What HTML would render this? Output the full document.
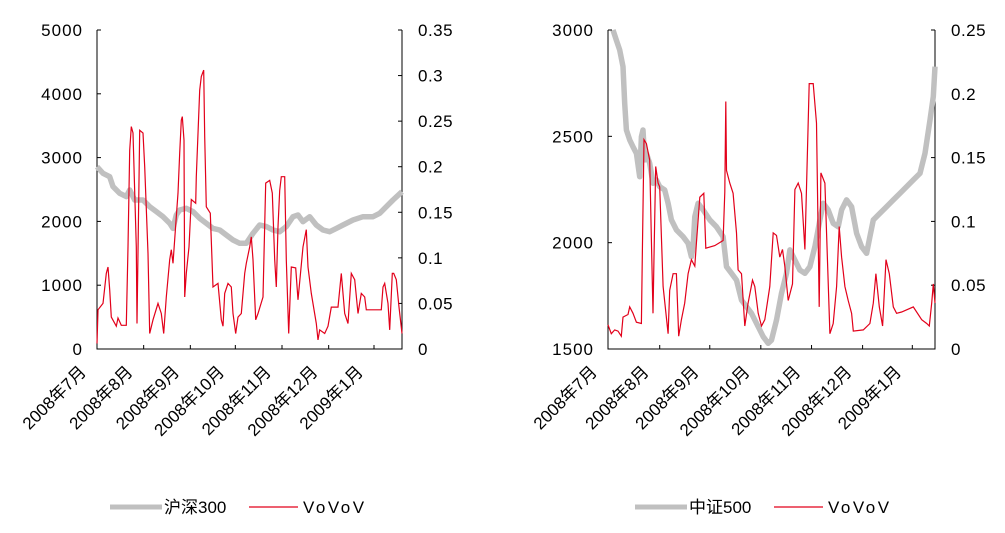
<!DOCTYPE html>
<html><head><meta charset="utf-8">
<style>
html,body{margin:0;padding:0;background:#fff;}
svg text{font-family:"Liberation Sans","Noto Sans CJK SC",sans-serif;fill:#000;}
</style></head>
<body>
<svg id="svg" width="1005" height="528" xmlns="http://www.w3.org/2000/svg"></svg>
<script>
// ---- Chart A: 沪深300 vs VoV ----
const monthLabels = ["2008年7月","2008年8月","2008年9月","2008年10月","2008年11月","2008年12月","2009年1月"];
const aMonthT = [22,162,302,437,577,717,853];
const aLeftTicks = [0,1000,2000,3000,4000,5000];
const aRightTicks = ["0","0.05","0.1","0.15","0.2","0.25","0.3","0.35"];
const aIdxT = [22,40,60,70,90,110,120,135,160,180,200,220,240,250,260,270,290,310,330,350,370,390,410,430,450,470,490,510,530,550,570,590,610,625,640,660,680,700,720,740,760,790,820,850,870,890,910,937];
const aIdxV = [2858,2754,2701,2545,2440,2388,2492,2336,2336,2231,2153,2074,1970,1891,2100,2179,2205,2153,2048,1970,1891,1865,1787,1709,1656,1656,1813,1944,1918,1865,1839,1918,2074,2100,1996,2074,1944,1865,1839,1891,1944,2022,2074,2074,2127,2231,2336,2466];
const aVovT = [22,25,40,50,55,60,65,80,85,95,110,115,120,125,130,140,142,150,160,165,175,180,190,205,215,222,230,240,245,250,260,265,270,275,278,283,285,290,298,305,318,320,330,335,342,345,350,362,370,385,395,400,405,415,425,430,438,445,455,465,470,480,485,490,498,505,520,528,540,548,555,560,565,570,575,585,590,597,605,618,625,640,650,655,665,680,685,690,705,715,725,745,755,765,775,785,795,805,815,825,830,875,880,885,895,900,908,912,920,928,937];
const aVovV = [.006,.043,.050,.083,.090,.065,.035,.025,.034,.026,.026,.112,.218,.244,.237,.112,.028,.240,.237,.200,.105,.017,.032,.050,.039,.017,.057,.098,.109,.094,.145,.171,.215,.251,.255,.229,.057,.083,.112,.164,.160,.189,.284,.299,.306,.233,.156,.149,.068,.072,.032,.025,.061,.072,.068,.039,.017,.035,.039,.083,.094,.112,.123,.098,.032,.039,.057,.182,.185,.171,.098,.068,.134,.174,.189,.189,.098,.017,.090,.089,.054,.112,.131,.090,.061,.028,.010,.021,.017,.025,.046,.046,.083,.039,.028,.083,.076,.039,.061,.057,.043,.043,.068,.072,.050,.021,.083,.083,.076,.046,.017];

// ---- Chart B: 中证500 vs VoV ----
const bMonthT = [25,180,330,483,635,788,937];
const bLeftTicks = [1500,2000,2500,3000];
const bRightTicks = ["0","0.05","0.1","0.15","0.2","0.25"];
const bIdxT = [40,50,60,70,75,80,90,100,110,120,125,130,135,140,150,160,170,180,195,205,215,230,250,265,275,280,285,295,310,330,350,370,380,395,410,425,440,455,475,490,505,515,530,545,560,570,585,600,615,630,645,660,670,685,700,715,725,740,755,770,785,800,810,820,840,860,880,900,920,940,960,975,990,1000,1005];
const bIdxV = [3000,2953,2906,2828,2655,2530,2483,2451,2420,2310,2498,2530,2389,2420,2373,2279,2295,2263,2248,2185,2107,2060,2028,1997,1934,1981,2122,2185,2154,2107,2075,2028,1887,1856,1824,1730,1699,1668,1605,1558,1527,1542,1636,1762,1856,1966,1918,1871,1856,1887,1981,2107,2185,2154,2091,2075,2154,2201,2169,2044,1981,1950,2028,2107,2138,2169,2201,2232,2263,2295,2326,2420,2577,2687,2828];
const bVovT = [25,35,45,55,65,70,85,90,100,110,125,128,133,140,150,155,160,163,168,175,180,190,205,210,220,230,237,245,255,265,275,285,290,300,312,318,345,370,375,378,380,390,400,410,415,425,435,445,458,465,475,485,495,510,520,530,540,548,555,565,578,585,595,605,615,628,640,650,658,663,675,690,700,710,718,725,735,745,755,760,790,810,820,828,838,848,858,868,880,890,905,940,965,980,988,995,1000,1005];
const bVovV = [.019,.012,.015,.014,.010,.025,.027,.033,.028,.021,.020,.078,.164,.161,.148,.085,.028,.072,.143,.130,.127,.049,.012,.046,.059,.059,.010,.023,.036,.059,.070,.065,.083,.119,.122,.079,.081,.085,.123,.194,.140,.130,.122,.091,.062,.059,.018,.036,.054,.049,.028,.018,.023,.049,.091,.089,.072,.078,.065,.038,.051,.125,.130,.122,.078,.208,.208,.177,.033,.138,.130,.012,.020,.049,.096,.072,.049,.038,.028,.014,.015,.020,.036,.059,.033,.018,.070,.059,.033,.028,.029,.033,.023,.020,.018,.036,.051,.036];

const NS="http://www.w3.org/2000/svg";
const svg=document.getElementById('svg');
function mk(tag,attrs,parent){const e=document.createElementNS(NS,tag);for(const k in attrs)e.setAttribute(k,attrs[k]);(parent||svg).appendChild(e);return e;}

function drawChart(o){
  const g=mk('g',{});
  
  
  const xs=t=>o.x0+(t-o.t0)/(o.t1-o.t0)*(o.x1-o.x0);
  const yl=v=>o.yb-(v-o.lmin)/(o.lmax-o.lmin)*(o.yb-o.yt);
  const yr=v=>o.yb-(v-0)/(o.rmax)*(o.yb-o.yt);
  const ax=mk('path',{d:`M${o.x0},${o.yt}V${o.yb}H${o.x1}V${o.yt}`,stroke:'#000','stroke-width':1,fill:'none'},g);
  
  
  o.lticks.forEach(v=>{
    const y=yl(v);
    mk('line',{x1:o.x0,x2:o.x0+4,y1:y,y2:y,stroke:'#000'},g);
    const t=mk('text',{x:o.x0-14,y:y+6,'text-anchor':'end','font-size':17,'letter-spacing':'1'},g);
    t.textContent=v;
    
    
  });
  o.rticks.forEach(s=>{
    const y=yr(parseFloat(s));
    mk('line',{x1:o.x1-4,x2:o.x1,y1:y,y2:y,stroke:'#000'},g);
    const t=mk('text',{x:o.x1+16,y:y+6,'font-size':17,'letter-spacing':'0.5'},g);
    t.textContent=s;
    
    
  });
  o.months.forEach((m,i)=>{
    const x=xs(o.monthT[i]);
    mk('line',{x1:x,x2:x,y1:o.yb,y2:o.yb-4,stroke:'#000'},g);
    const t=mk('text',{x:0,y:0,'text-anchor':'end','font-size':17,transform:`translate(${x-10},${o.yb+24}) rotate(-45)`},g);
    t.textContent=m;
    
    
  });
  const ip=mk('polyline',{points:o.idxT.map((t,i)=>xs(t).toFixed(1)+','+yl(o.idxV[i]).toFixed(1)).join(' '),fill:'none',stroke:'#c0c0c0','stroke-width':5.5,'stroke-linejoin':'round'},g);
  
  
  const vp=mk('polyline',{points:o.vovT.map((t,i)=>xs(t).toFixed(1)+','+yr(o.vovV[i]).toFixed(1)).join(' '),fill:'none',stroke:'#e2001a','stroke-width':1.2},g);
  
  
  const lg=mk('g',{},g);
  
  
  mk('line',{x1:o.lx,x2:o.lx+52,y1:507,y2:507,stroke:'#c0c0c0','stroke-width':5},lg);
  const t1=mk('text',{x:o.lx+54,y:513,'font-size':17},lg);t1.textContent=o.idxName;
  
  
  mk('line',{x1:o.lx+139,x2:o.lx+188,y1:507,y2:507,stroke:'#e2001a','stroke-width':1.2},lg);
  const t2=mk('text',{x:o.lx+193,y:513,'font-size':17,'letter-spacing':'2.5'},lg);t2.textContent='VoVoV';
  
  
}
drawChart({name:'hs300-chart',x0:97,x1:402,yt:30,yb:349,t0:22,t1:937,lmin:0,lmax:5000,rmax:0.35,
  lticks:aLeftTicks,rticks:aRightTicks,months:monthLabels,monthT:aMonthT,idxT:aIdxT,idxV:aIdxV,vovT:aVovT,vovV:aVovV,lx:110,idxName:'沪深300'});
drawChart({name:'csi500-chart',x0:608,x1:935,yt:30,yb:349,t0:25,t1:1005,lmin:1500,lmax:3000,rmax:0.25,
  lticks:bLeftTicks,rticks:bRightTicks,months:monthLabels,monthT:bMonthT,idxT:bIdxT,idxV:bIdxV,vovT:bVovT,vovV:bVovV,lx:635,idxName:'中证500'});
</script>
</body></html>
